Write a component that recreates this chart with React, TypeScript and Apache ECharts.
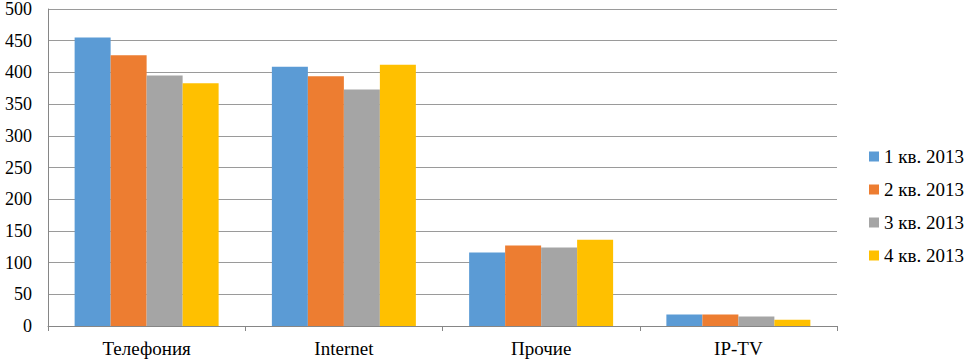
import React, { useEffect, useRef } from "react";
import * as echarts from "echarts";

const categories = ["Телефония", "Internet", "Прочие", "IP-TV"];
const seriesNames = ["1 кв. 2013", "2 кв. 2013", "3 кв. 2013", "4 кв. 2013"];
const q1 = [455, 409, 116, 18];
const q2 = [427, 394, 127, 18];
const q3 = [395, 373, 124, 15];
const q4 = [383, 412, 136, 10];
const colors = ["#5B9BD5", "#ED7D31", "#A5A5A5", "#FFC000"];

export default function App() {
  const ref = useRef<HTMLDivElement>(null);
  useEffect(() => {
    if (!ref.current) return;
    const chart = echarts.init(ref.current, undefined, { renderer: "svg" });
    const font = "Times New Roman, serif";
    const data = [q1, q2, q3, q4];
    chart.setOption({
      animation: false,
      textStyle: { fontFamily: font },
      grid: { left: 48, right: 132, top: 8, bottom: 37, containLabel: false },
      legend: {
        orient: "vertical",
        left: 864,
        top: 142,
        itemWidth: 10,
        itemHeight: 10,
        itemGap: 14,
        icon: "rect",
        data: seriesNames,
        textStyle: { fontFamily: font, fontSize: 19, color: "#000" },
      },
      xAxis: {
        type: "category",
        data: categories,
        axisLine: { lineStyle: { color: "#868686" } },
        axisTick: { show: true, alignWithLabel: false, length: 5, lineStyle: { color: "#868686" } },
        axisLabel: { fontFamily: font, fontSize: 19, color: "#000", margin: 13 },
      },
      yAxis: {
        type: "value",
        min: 0,
        max: 500,
        interval: 50,
        axisLine: { show: true, lineStyle: { color: "#868686" } },
        axisTick: { show: false },
        splitLine: { lineStyle: { color: "#9a9a9a" } },
        axisLabel: { fontFamily: font, fontSize: 18, color: "#000", margin: 16 },
      },
      series: seriesNames.map((name, i) => ({
        name,
        type: "bar",
        data: data[i],
        barGap: "0%",
        barCategoryGap: "27%",
        itemStyle: { color: colors[i] },
      })),
    });
    return () => chart.dispose();
  }, []);
  return (
    <div
      ref={ref}
      style={{ position: "fixed", left: 0, top: 0, width: 969, height: 363, background: "#fff" }}
    />
  );
}
